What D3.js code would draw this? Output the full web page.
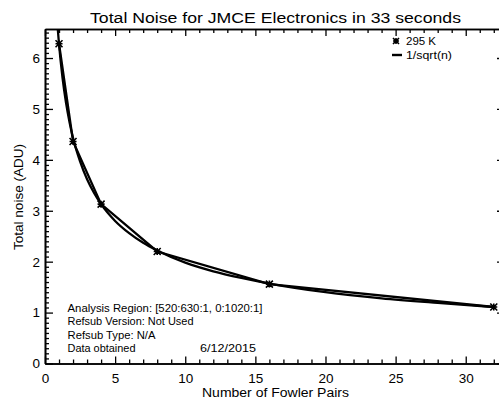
<!DOCTYPE html>
<html><head><meta charset="utf-8">
<script src="https://cdn.jsdelivr.net/npm/d3@7"></script>
<style>body{margin:0;background:#fff}svg{display:block}text{font-family:"Liberation Sans",Arial,sans-serif;fill:#000}</style>
</head><body>
<script>
// Data
const fowlerPairs = [1, 2, 4, 8, 16, 32];
const noise295K = [6.28, 4.36, 3.13, 2.20, 1.56, 1.11];
// 1/sqrt(n) reference curve (values listed, normalised to first point)
const modelN = [0.9, 1, 1.25, 1.5, 1.75, 2, 2.5, 3, 3.5, 4, 5, 6, 7, 8, 10, 12, 14, 16, 20, 24, 28, 32];
const modelNoise = [6.61, 6.27, 5.61, 5.12, 4.74, 4.43, 3.97, 3.62, 3.35, 3.13, 2.80, 2.56, 2.37, 2.22, 1.98, 1.81, 1.68, 1.57, 1.40, 1.28, 1.19, 1.11];
const xMajorTicks = [0, 5, 10, 15, 20, 25, 30];
const yMajorTicks = [0, 1, 2, 3, 4, 5, 6];
const legendLabels = ["295 K", "1/sqrt(n)"];
const notes = ["Analysis Region: [520:630:1, 0:1020:1]", "Refsub Version: Not Used", "Refsub Type: N/A", "Data obtained"];
const dateText = "6/12/2015";
const titleText = "Total Noise for JMCE Electronics in 33 seconds";

const W = 499, H = 401;
const L = 45, R = 505, T = 29, B = 363.5;
const svg = d3.select("body").append("svg").attr("width", W).attr("height", H);
const x = d3.scaleLinear().domain([0, 32.8]).range([L, R]);
const y = d3.scaleLinear().domain([0, 6.57]).range([B, T]);

const xMinor = d3.range(0, 33, 1).filter(v => v % 5 !== 0);
const yMinor = d3.range(0, 66, 1).map(v => v / 10).filter((v, i) => i % 10 !== 0);

function styleAxis(g) { g.select(".domain").attr("stroke", "#000").attr("stroke-width", 1.6); g.selectAll(".tick line").attr("stroke", "#000").attr("stroke-width", 1.3); }

// bottom axis
svg.append("g").attr("transform", `translate(0,${B})`)
  .call(d3.axisBottom(x).tickValues(xMajorTicks).tickSize(-7).tickSizeOuter(0).tickPadding(10).tickFormat(d3.format("d")))
  .call(styleAxis).call(g => g.selectAll("text").attr("font-size", 13.5).attr("fill", "#000"));
svg.append("g").attr("transform", `translate(0,${B})`)
  .call(d3.axisBottom(x).tickValues(xMinor).tickSize(-4).tickSizeOuter(0).tickFormat(""))
  .call(styleAxis);
// top axis
svg.append("g").attr("transform", `translate(0,${T})`)
  .call(d3.axisTop(x).tickValues(xMajorTicks).tickSize(-7).tickSizeOuter(0).tickFormat(""))
  .call(styleAxis);
svg.append("g").attr("transform", `translate(0,${T})`)
  .call(d3.axisTop(x).tickValues(xMinor).tickSize(-4).tickSizeOuter(0).tickFormat(""))
  .call(styleAxis);
// left axis
svg.append("g").attr("transform", `translate(${L},0)`)
  .call(d3.axisLeft(y).tickValues(yMajorTicks).tickSize(-8).tickSizeOuter(0).tickPadding(5).tickFormat(d3.format("d")))
  .call(styleAxis).call(g => g.selectAll("text").attr("font-size", 13.5).attr("fill", "#000"));
svg.append("g").attr("transform", `translate(${L},0)`)
  .call(d3.axisLeft(y).tickValues(yMinor).tickSize(-4).tickSizeOuter(0).tickFormat(""))
  .call(styleAxis);
// right axis
svg.append("g").attr("transform", `translate(${R},0)`)
  .call(d3.axisRight(y).tickValues(yMajorTicks).tickSize(-8).tickSizeOuter(0).tickFormat(""))
  .call(styleAxis);
svg.append("g").attr("transform", `translate(${R},0)`)
  .call(d3.axisRight(y).tickValues(yMinor).tickSize(-4).tickSizeOuter(0).tickFormat(""))
  .call(styleAxis);

// clip
svg.append("clipPath").attr("id", "clip").append("rect").attr("x", L).attr("y", T).attr("width", R - L).attr("height", B - T);
const plot = svg.append("g").attr("clip-path", "url(#clip)");

const modelLine = d3.line().x((d, i) => x(modelN[i])).y(d => y(d)).curve(d3.curveMonotoneX);
plot.append("path").attr("d", modelLine(modelNoise)).attr("fill", "none").attr("stroke", "#000").attr("stroke-width", 2.3);

const dataLine = d3.line().x((d, i) => x(fowlerPairs[i])).y(d => y(d));
plot.append("path").attr("d", dataLine(noise295K)).attr("fill", "none").attr("stroke", "#000").attr("stroke-width", 2.3);

function asterisk(g, cx, cy, r) {
  const p = d3.path();
  p.moveTo(cx - r, cy - r); p.lineTo(cx + r, cy + r);
  p.moveTo(cx - r, cy + r); p.lineTo(cx + r, cy - r);
  p.moveTo(cx, cy - r); p.lineTo(cx, cy + r);
  p.moveTo(cx - r, cy); p.lineTo(cx + r, cy);
  g.append("path").attr("d", p.toString()).attr("stroke", "#000").attr("stroke-width", 1.6).attr("fill", "none");
}
noise295K.forEach((v, i) => asterisk(plot, x(fowlerPairs[i]), y(v), 3.5));

// title
svg.append("text").attr("x", 275.5).attr("y", 22.5).attr("text-anchor", "middle").attr("font-size", 15.5)
  .attr("textLength", 371).attr("lengthAdjust", "spacingAndGlyphs").text(titleText);
// axis titles
svg.append("text").attr("x", 275.5).attr("y", 397).attr("text-anchor", "middle").attr("font-size", 12.5)
  .attr("textLength", 147).attr("lengthAdjust", "spacingAndGlyphs").text("Number of Fowler Pairs");
svg.append("text").attr("transform", "translate(22.5,197) rotate(-90)").attr("text-anchor", "middle").attr("font-size", 12.5)
  .attr("textLength", 106).attr("lengthAdjust", "spacingAndGlyphs").text("Total noise (ADU)");

// legend
asterisk(svg, 396, 41, 3);
svg.append("text").attr("x", 406).attr("y", 45).attr("font-size", 11)
  .attr("textLength", 30).attr("lengthAdjust", "spacingAndGlyphs").text(legendLabels[0]);
svg.append("line").attr("x1", 392).attr("x2", 402).attr("y1", 55).attr("y2", 55).attr("stroke", "#000").attr("stroke-width", 2.4);
svg.append("text").attr("x", 406).attr("y", 59).attr("font-size", 11)
  .attr("textLength", 46).attr("lengthAdjust", "spacingAndGlyphs").text(legendLabels[1]);

// notes
const noteWidths = [195, 126, 88, 68];
notes.forEach((t, i) => {
  svg.append("text").attr("x", 67.5).attr("y", 312 + i * 13.4).attr("font-size", 10.8)
    .attr("textLength", noteWidths[i]).attr("lengthAdjust", "spacingAndGlyphs").text(t);
});
svg.append("text").attr("x", 200).attr("y", 312 + 3 * 13.4).attr("font-size", 10.8)
  .attr("textLength", 56).attr("lengthAdjust", "spacingAndGlyphs").text(dateText);
</script>
</body></html>
